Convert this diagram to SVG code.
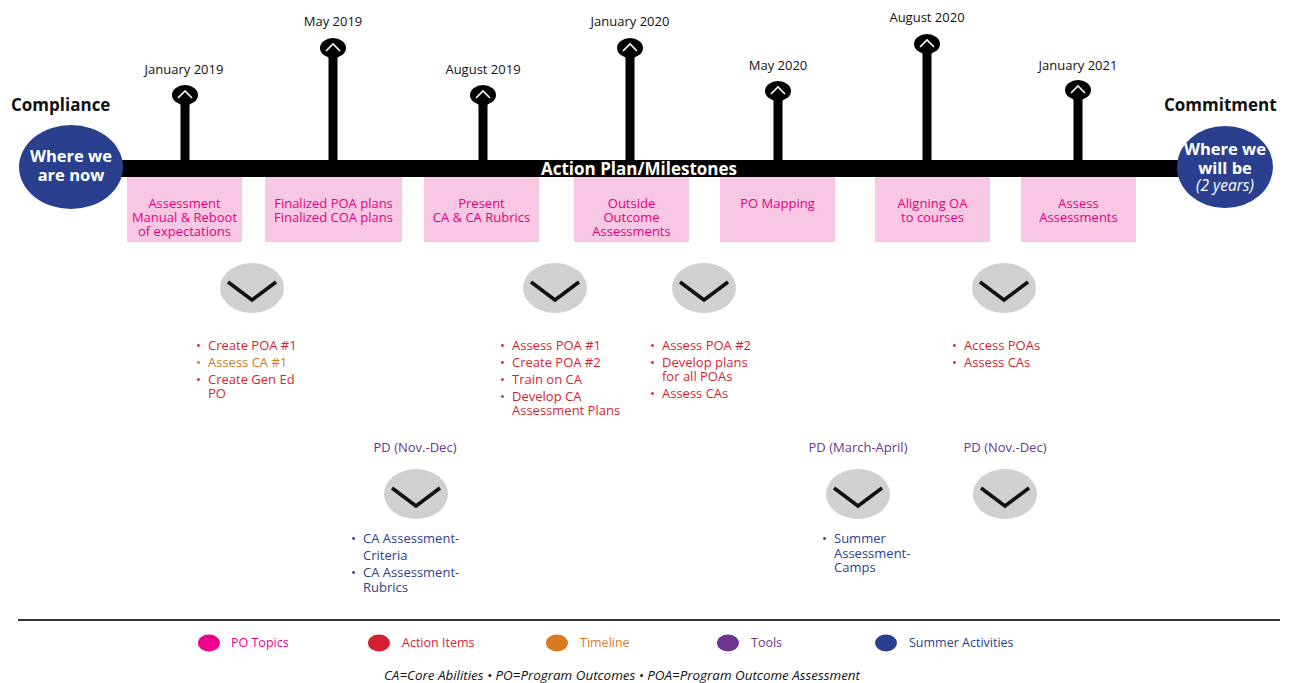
<svg xmlns="http://www.w3.org/2000/svg" width="1290" height="683" viewBox="0 0 1290 683">
<defs>
<style>
text{font-family:"Open Sans","Noto Sans","Liberation Sans",sans-serif;}
.date{font-size:13px;fill:#111;text-anchor:middle;}
.head{font-size:17px;font-weight:bold;fill:#111;}
.box{fill:#f7c7e3;}
.bt{font-size:13px;fill:#e6007e;text-anchor:middle;}
.circ{font-size:16.5px;font-weight:bold;fill:#fff;text-anchor:middle;}
.chev{fill:#d0d0d0;}
.v{fill:none;stroke:#111;stroke-width:3.5;stroke-linejoin:miter;}
.red{font-size:13px;fill:#d41f33;}
.org{font-size:13px;fill:#d97a1e;}
.blu{font-size:13px;fill:#2b3f8f;}
.pd{font-size:13px;fill:#6b3590;text-anchor:middle;}
.lg{font-size:12.5px;}
</style>
<g id="pin">
<rect x="-4.5" y="0" width="9" height="10" fill="#000"/>
<ellipse cx="0" cy="0" rx="13" ry="10" fill="#000"/>
<polyline points="-7,3 0,-4 7,3" fill="none" stroke="#fff" stroke-width="1.6"/>
</g>
</defs>
<rect width="1290" height="683" fill="#fff"/>

<g id="connectors">
<rect x="110" y="160" width="1080" height="17" fill="#000"/>
<rect x="180.5" y="95" width="9" height="66" fill="#000"/>
<rect x="328.5" y="48" width="9" height="113" fill="#000"/>
<rect x="478.5" y="95" width="9" height="66" fill="#000"/>
<rect x="625.5" y="48" width="9" height="113" fill="#000"/>
<rect x="773.5" y="91" width="9" height="70" fill="#000"/>
<rect x="922.5" y="44" width="9" height="117" fill="#000"/>
<rect x="1073.5" y="90" width="9" height="71" fill="#000"/>
<text x="639" y="175" style="font-size:17px;font-weight:bold;fill:#fff;text-anchor:middle">Action Plan/Milestones</text>
</g>

<g id="milestone-jan2019"><use href="#pin" x="185" y="95"/><text class="date" x="184" y="74">January 2019</text></g>
<g id="milestone-may2019"><use href="#pin" x="333" y="48"/><text class="date" x="333" y="26">May 2019</text></g>
<g id="milestone-aug2019"><use href="#pin" x="483" y="95"/><text class="date" x="483" y="74">August 2019</text></g>
<g id="milestone-jan2020"><use href="#pin" x="630" y="48"/><text class="date" x="630" y="26">January 2020</text></g>
<g id="milestone-may2020"><use href="#pin" x="778" y="91"/><text class="date" x="778" y="70">May 2020</text></g>
<g id="milestone-aug2020"><use href="#pin" x="927" y="44"/><text class="date" x="927" y="22">August 2020</text></g>
<g id="milestone-jan2021"><use href="#pin" x="1078" y="90"/><text class="date" x="1078" y="70">January 2021</text></g>

<g id="start">
<text class="head" x="11" y="111">Compliance</text>
<ellipse cx="71" cy="167" rx="52" ry="42" fill="#2b3f8f"/>
<text class="circ" x="71" y="162">Where we</text>
<text class="circ" x="71" y="181">are now</text>
</g>
<g id="end">
<text class="head" x="1164" y="111">Commitment</text>
<ellipse cx="1225" cy="167" rx="48" ry="41" fill="#2b3f8f"/>
<text class="circ" x="1225" y="155">Where we</text>
<text class="circ" x="1225" y="174">will be</text>
<text x="1225" y="191" style="font-size:15.5px;font-style:italic;fill:#fff;text-anchor:middle">(2 years)</text>
</g>

<g id="box1"><rect class="box" x="127" y="177" width="115" height="65"/>
<text class="bt" x="184.5" y="208">Assessment</text><text class="bt" x="184.5" y="222">Manual &amp; Reboot</text><text class="bt" x="184.5" y="236">of expectations</text></g>
<g id="box2"><rect class="box" x="265" y="177" width="137" height="65"/>
<text class="bt" x="333.5" y="208">Finalized POA plans</text><text class="bt" x="333.5" y="222">Finalized COA plans</text></g>
<g id="box3"><rect class="box" x="424" y="177" width="115" height="65"/>
<text class="bt" x="481.5" y="208">Present</text><text class="bt" x="481.5" y="222">CA &amp; CA Rubrics</text></g>
<g id="box4"><rect class="box" x="574" y="177" width="115" height="65"/>
<text class="bt" x="631.5" y="208">Outside</text><text class="bt" x="631.5" y="222">Outcome</text><text class="bt" x="631.5" y="236">Assessments</text></g>
<g id="box5"><rect class="box" x="720" y="177" width="115" height="65"/>
<text class="bt" x="777.5" y="208">PO Mapping</text></g>
<g id="box6"><rect class="box" x="875" y="177" width="115" height="65"/>
<text class="bt" x="932.5" y="208">Aligning OA</text><text class="bt" x="932.5" y="222">to courses</text></g>
<g id="box7"><rect class="box" x="1021" y="177" width="115" height="65"/>
<text class="bt" x="1078.5" y="208">Assess</text><text class="bt" x="1078.5" y="222">Assessments</text></g>

<g id="drop1"><ellipse class="chev" cx="252" cy="288" rx="32" ry="25"/><polyline class="v" points="228,282 252,300 276,282"/>
<text class="red" x="196" y="350">• <tspan x="208">Create POA #1</tspan></text>
<text class="org" x="196" y="367">• <tspan x="208">Assess CA #1</tspan></text>
<text class="red" x="196" y="384">• <tspan x="208">Create Gen Ed</tspan></text>
<text class="red" x="208" y="398">PO</text></g>

<g id="drop2"><ellipse class="chev" cx="555" cy="288" rx="32" ry="25"/><polyline class="v" points="531,282 555,300 579,282"/>
<text class="red" x="500" y="350">• <tspan x="512">Assess POA #1</tspan></text>
<text class="red" x="500" y="367">• <tspan x="512">Create POA #2</tspan></text>
<text class="red" x="500" y="384">• <tspan x="512">Train on CA</tspan></text>
<text class="red" x="500" y="401">• <tspan x="512">Develop CA</tspan></text>
<text class="red" x="512" y="415">Assessment Plans</text></g>

<g id="drop3"><ellipse class="chev" cx="704" cy="288" rx="32" ry="25"/><polyline class="v" points="680,282 704,300 728,282"/>
<text class="red" x="650" y="350">• <tspan x="662">Assess POA #2</tspan></text>
<text class="red" x="650" y="367">• <tspan x="662">Develop plans</tspan></text>
<text class="red" x="662" y="381">for all POAs</text>
<text class="red" x="650" y="398">• <tspan x="662">Assess CAs</tspan></text></g>

<g id="drop4"><ellipse class="chev" cx="1004" cy="288" rx="32" ry="25"/><polyline class="v" points="980,282 1004,300 1028,282"/>
<text class="red" x="952" y="350">• <tspan x="964">Access POAs</tspan></text>
<text class="red" x="952" y="367">• <tspan x="964">Assess CAs</tspan></text></g>

<g id="pd1"><text class="pd" x="415" y="452">PD (Nov.-Dec)</text>
<ellipse class="chev" cx="416" cy="494" rx="32" ry="25"/><polyline class="v" points="392,488 416,506 440,488"/>
<text class="blu" x="351" y="543">• <tspan x="363">CA Assessment-</tspan></text>
<text class="blu" x="363" y="560">Criteria</text>
<text class="blu" x="351" y="577">• <tspan x="363">CA Assessment-</tspan></text>
<text class="blu" x="363" y="592">Rubrics</text></g>

<g id="pd2"><text class="pd" x="858" y="452">PD (March-April)</text>
<ellipse class="chev" cx="858" cy="494" rx="32" ry="25"/><polyline class="v" points="834,488 858,506 882,488"/>
<text class="blu" x="822" y="543">• <tspan x="834">Summer</tspan></text>
<text class="blu" x="834" y="558">Assessment-</text>
<text class="blu" x="834" y="572">Camps</text></g>

<g id="pd3"><text class="pd" x="1005" y="452">PD (Nov.-Dec)</text>
<ellipse class="chev" cx="1005" cy="494" rx="32" ry="25"/><polyline class="v" points="981,488 1005,506 1029,488"/></g>

<g id="legend">
<line x1="18" y1="620" x2="1280" y2="620" stroke="#333" stroke-width="2"/>
<ellipse cx="209" cy="643" rx="11" ry="8.5" fill="#ec008c"/><text class="lg" x="231" y="647" fill="#ec008c">PO Topics</text>
<ellipse cx="379" cy="643" rx="11" ry="8.5" fill="#d41f33"/><text class="lg" x="402" y="647" fill="#d41f33">Action Items</text>
<ellipse cx="557" cy="643" rx="11" ry="8.5" fill="#d97a1e"/><text class="lg" x="580" y="647" fill="#d97a1e">Timeline</text>
<ellipse cx="728" cy="643" rx="11" ry="8.5" fill="#6b3590"/><text class="lg" x="751" y="647" fill="#6b3590">Tools</text>
<ellipse cx="886" cy="643" rx="11" ry="8.5" fill="#2b3f8f"/><text class="lg" x="909" y="647" fill="#2b3f8f">Summer Activities</text>
<text x="384" y="680" textLength="476" lengthAdjust="spacingAndGlyphs" style="font-size:12px;font-style:italic;fill:#111">CA=Core Abilities  •  PO=Program Outcomes  •  POA=Program Outcome Assessment</text>
</g>
</svg>
